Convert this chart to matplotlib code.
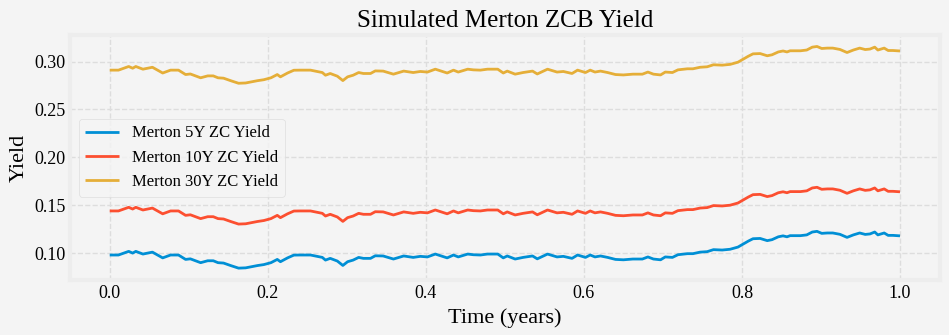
import matplotlib
matplotlib.use("Agg")
import matplotlib.pyplot as plt

# simulated yields
t = [0.000, 0.011, 0.024, 0.029, 0.033, 0.042, 0.054, 0.067, 0.077, 0.087,
     0.096, 0.102, 0.115, 0.124, 0.131, 0.137, 0.144, 0.153, 0.163, 0.172,
     0.187, 0.195, 0.204, 0.212, 0.216, 0.225, 0.233, 0.241, 0.254, 0.263,
     0.269, 0.273, 0.279, 0.288, 0.295, 0.301, 0.308, 0.315, 0.321, 0.330,
     0.336, 0.346, 0.359, 0.372, 0.384, 0.393, 0.402, 0.412, 0.427, 0.435,
     0.441, 0.453, 0.460, 0.469, 0.478, 0.491, 0.498, 0.503, 0.513, 0.523,
     0.535, 0.541, 0.554, 0.566, 0.574, 0.585, 0.592, 0.602, 0.608, 0.614,
     0.621, 0.630, 0.640, 0.650, 0.662, 0.674, 0.681, 0.688, 0.697, 0.703,
     0.712, 0.719, 0.731, 0.738, 0.747, 0.756, 0.764, 0.775, 0.785, 0.795,
     0.800, 0.808, 0.814, 0.823, 0.832, 0.838, 0.846, 0.852, 0.857, 0.861,
     0.874, 0.882, 0.889, 0.895, 0.901, 0.908, 0.915, 0.924, 0.933, 0.941,
     0.949, 0.956, 0.962, 0.968, 0.972, 0.980, 0.985, 0.991, 1.000]

y5 = [0.0980, 0.0980, 0.1018, 0.1000, 0.1018, 0.0990, 0.1010, 0.0950, 0.0980, 0.0980,
      0.0934, 0.0940, 0.0900, 0.0920, 0.0920, 0.0900, 0.0896, 0.0870, 0.0843, 0.0846,
      0.0870, 0.0880, 0.0900, 0.0934, 0.0910, 0.0950, 0.0979, 0.0980, 0.0980, 0.0965,
      0.0955, 0.0927, 0.0945, 0.0917, 0.0871, 0.0910, 0.0927, 0.0955, 0.0945, 0.0945,
      0.0972, 0.0970, 0.0938, 0.0970, 0.0955, 0.0966, 0.0960, 0.0990, 0.0950, 0.0980,
      0.0960, 0.0990, 0.0983, 0.0980, 0.0990, 0.0990, 0.0950, 0.0970, 0.0938, 0.0955,
      0.0970, 0.0940, 0.0990, 0.0960, 0.0966, 0.0945, 0.0980, 0.0955, 0.0980, 0.0960,
      0.0970, 0.0955, 0.0934, 0.0930, 0.0938, 0.0938, 0.0960, 0.0938, 0.0930, 0.0960,
      0.0955, 0.0983, 0.0994, 0.0994, 0.1010, 0.1015, 0.1036, 0.1032, 0.1040, 0.1063,
      0.1087, 0.1125, 0.1150, 0.1153, 0.1130, 0.1140, 0.1170, 0.1180, 0.1170, 0.1182,
      0.1182, 0.1190, 0.1220, 0.1227, 0.1206, 0.1210, 0.1210, 0.1196, 0.1164, 0.1190,
      0.1210, 0.1195, 0.1200, 0.1220, 0.1190, 0.1210, 0.1185, 0.1185, 0.1180]

y10 = [0.1440, 0.1440, 0.1478, 0.1460, 0.1478, 0.1450, 0.1470, 0.1410, 0.1440, 0.1440,
       0.1394, 0.1400, 0.1360, 0.1380, 0.1380, 0.1360, 0.1356, 0.1330, 0.1303, 0.1306,
       0.1330, 0.1340, 0.1360, 0.1394, 0.1370, 0.1410, 0.1439, 0.1440, 0.1440, 0.1425,
       0.1415, 0.1387, 0.1405, 0.1377, 0.1331, 0.1370, 0.1387, 0.1415, 0.1405, 0.1405,
       0.1432, 0.1430, 0.1398, 0.1430, 0.1415, 0.1426, 0.1420, 0.1450, 0.1410, 0.1440,
       0.1420, 0.1450, 0.1443, 0.1440, 0.1450, 0.1450, 0.1410, 0.1430, 0.1398, 0.1415,
       0.1430, 0.1400, 0.1450, 0.1420, 0.1426, 0.1405, 0.1440, 0.1415, 0.1440, 0.1420,
       0.1430, 0.1415, 0.1394, 0.1390, 0.1398, 0.1398, 0.1420, 0.1398, 0.1390, 0.1420,
       0.1415, 0.1443, 0.1454, 0.1454, 0.1470, 0.1475, 0.1496, 0.1492, 0.1500, 0.1523,
       0.1547, 0.1585, 0.1610, 0.1613, 0.1590, 0.1600, 0.1630, 0.1640, 0.1630, 0.1642,
       0.1642, 0.1650, 0.1680, 0.1687, 0.1666, 0.1670, 0.1670, 0.1656, 0.1624, 0.1650,
       0.1670, 0.1655, 0.1660, 0.1680, 0.1650, 0.1670, 0.1645, 0.1645, 0.1640]

y30 = [0.2910, 0.2910, 0.2948, 0.2930, 0.2948, 0.2920, 0.2940, 0.2880, 0.2910, 0.2910,
       0.2864, 0.2870, 0.2830, 0.2850, 0.2850, 0.2830, 0.2826, 0.2800, 0.2773, 0.2776,
       0.2800, 0.2810, 0.2830, 0.2864, 0.2840, 0.2880, 0.2909, 0.2910, 0.2910, 0.2895,
       0.2885, 0.2857, 0.2875, 0.2847, 0.2801, 0.2840, 0.2857, 0.2885, 0.2875, 0.2875,
       0.2902, 0.2900, 0.2868, 0.2900, 0.2885, 0.2896, 0.2890, 0.2920, 0.2880, 0.2910,
       0.2890, 0.2920, 0.2913, 0.2910, 0.2920, 0.2920, 0.2880, 0.2900, 0.2868, 0.2885,
       0.2900, 0.2870, 0.2920, 0.2890, 0.2896, 0.2875, 0.2910, 0.2885, 0.2910, 0.2890,
       0.2900, 0.2885, 0.2864, 0.2860, 0.2868, 0.2868, 0.2890, 0.2868, 0.2860, 0.2890,
       0.2885, 0.2913, 0.2924, 0.2924, 0.2940, 0.2945, 0.2966, 0.2962, 0.2970, 0.2993,
       0.3017, 0.3055, 0.3080, 0.3083, 0.3060, 0.3070, 0.3100, 0.3110, 0.3100, 0.3112,
       0.3112, 0.3120, 0.3150, 0.3157, 0.3136, 0.3140, 0.3140, 0.3126, 0.3094, 0.3120,
       0.3140, 0.3125, 0.3130, 0.3150, 0.3120, 0.3140, 0.3115, 0.3115, 0.3110]

plt.style.use('fivethirtyeight')
plt.rcParams['font.family'] = ['Liberation Serif', 'DejaVu Serif']

fig, ax = plt.subplots(figsize=(9.49, 3.35), dpi=100)
fig.patch.set_facecolor('#f4f4f4')
ax.set_facecolor('#f4f4f4')
for s in ax.spines.values():
    s.set_color('#ededed')
    s.set_linewidth(3)

ax.plot(t, y5, color='#008fd5', lw=2, label='Merton 5Y ZC Yield')
ax.plot(t, y10, color='#fc4f30', lw=2, label='Merton 10Y ZC Yield')
ax.plot(t, y30, color='#e5ae38', lw=2, label='Merton 30Y ZC Yield')

ax.grid(True, linestyle='--', color='#dddddd', linewidth=1)
ax.tick_params(labelsize=13)
ax.set_title('Simulated Merton ZCB Yield', fontsize=18)
ax.set_xlabel('Time (years)', fontsize=16)
ax.set_ylabel('Yield', fontsize=16)
ax.set_xticks([0.0, 0.2, 0.4, 0.6, 0.8, 1.0])
ax.set_yticks([0.10, 0.15, 0.20, 0.25, 0.30])
ax.set_ylim(0.0715, 0.3275)
leg = ax.legend(loc='center left', fontsize=12, frameon=True)
leg.get_frame().set_facecolor('#f4f4f4')
leg.get_frame().set_edgecolor('#d8d8d8')

plt.subplots_adjust(left=0.074, right=0.99, top=0.895, bottom=0.163)
plt.savefig('out.png', dpi=100, facecolor=fig.get_facecolor())
